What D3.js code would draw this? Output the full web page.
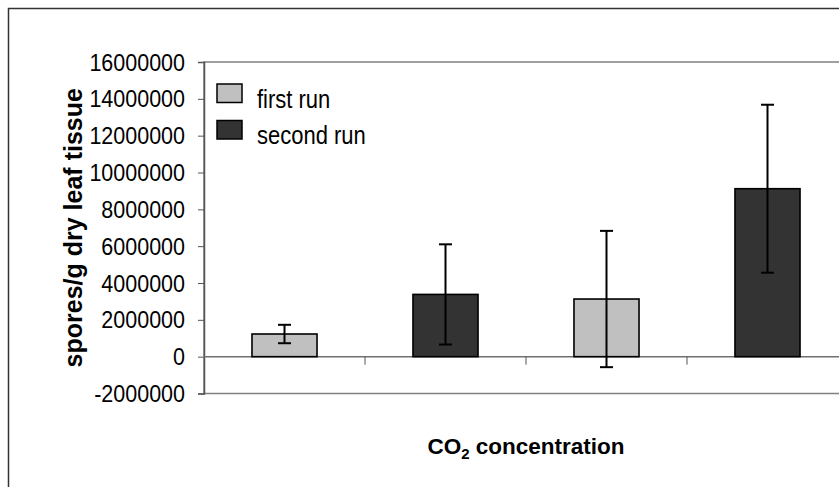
<!DOCTYPE html>
<html>
<head>
  <meta charset="utf-8">
  <title>Spores per gram</title>
  <style>
  body { margin: 0; background: #fff; }
  text { font-family: "Liberation Sans", Arial, sans-serif; fill: #000; }
  .tick-label { font-size: 21.5px; text-anchor: end; }
  .legend-label { font-size: 22px; }
  .axis-title { font-size: 22.5px; font-weight: bold; }
  .bar { stroke: #000; stroke-width: 1.6px; }
  .err { stroke: #000; stroke-width: 2px; fill: none; }
  </style>
</head>
<body>
  <div id="chart"></div>
  <script src="https://cdn.jsdelivr.net/npm/d3@7"></script>
  <script>
  // chart data
  var categories = ["level 1", "level 2", "level 3", "level 4"];
  var runs = ["first run", "second run", "first run", "second run"];
  var means = [1230000, 3380000, 3130000, 9120000];
  var errors = [500000, 2720000, 3700000, 4560000];
  var seriesNames = ["first run", "second run"];
  var seriesColors = ["#c0c0c0", "#333333"];
  var yTicks = [-2000000, 0, 2000000, 4000000, 6000000, 8000000, 10000000, 12000000, 14000000, 16000000];

  var width = 839, height = 487;
  var plotLeft = 204, plotRight = 848, plotTop = 62, plotBottom = 393.5;

  var svg = d3.select("#chart").append("svg")
    .attr("width", width)
    .attr("height", height);

  // outer chart frame (runs off the right/bottom of the window)
  svg.append("rect")
    .attr("x", 8.5).attr("y", 8.5)
    .attr("width", 900).attr("height", 600)
    .attr("fill", "none")
    .attr("stroke", "#333")
    .attr("stroke-width", 1.5);

  var color = d3.scaleOrdinal().domain(seriesNames).range(seriesColors);

  var x = d3.scaleBand()
    .domain(categories)
    .range([plotLeft, plotRight])
    .paddingInner(0.596)
    .paddingOuter(0.298);

  var y = d3.scaleLinear()
    .domain([-2000000, 16000000])
    .range([plotBottom, plotTop]);

  // plot area frame
  svg.append("rect")
    .attr("x", plotLeft).attr("y", plotTop)
    .attr("width", plotRight - plotLeft).attr("height", plotBottom - plotTop)
    .attr("fill", "none")
    .attr("stroke", "#808080")
    .attr("stroke-width", 1.5);

  // y axis
  var yAxis = svg.append("g")
    .attr("transform", "translate(" + plotLeft + ",0)")
    .call(d3.axisLeft(y).tickValues(yTicks).tickSize(6).tickFormat(function(d) { return String(d); }));
  yAxis.select(".domain").attr("stroke", "#555").attr("stroke-width", 1.5);
  yAxis.selectAll(".tick line").attr("stroke", "#555");
  // text in the picture is a bit taller than Arial, so stretch it a little
  yAxis.selectAll(".tick text")
    .attr("class", "tick-label")
    .attr("font-size", null)
    .attr("font-family", null)
    .attr("fill", "#000")
    .attr("x", null).attr("dy", null)
    .attr("transform", "translate(-19,8) scale(1,1.08)");

  // zero line with category separators
  var xAxis = svg.append("g")
    .attr("transform", "translate(0," + y(0) + ")");
  xAxis.append("line")
    .attr("x1", plotLeft).attr("x2", plotRight)
    .attr("stroke", "#707070").attr("stroke-width", 1.5);
  xAxis.selectAll(".sep")
    .data(categories.slice(1))
    .enter().append("line")
    .attr("class", "sep")
    .attr("x1", function(d) { return x(d) - x.step() * x.paddingInner() / 2; })
    .attr("x2", function(d) { return x(d) - x.step() * x.paddingInner() / 2; })
    .attr("y1", 0).attr("y2", 8)
    .attr("stroke", "#555").attr("stroke-width", 1);

  // bars
  svg.selectAll(".bar")
    .data(categories)
    .enter().append("rect")
    .attr("class", "bar")
    .attr("x", function(d) { return x(d); })
    .attr("y", function(d, i) { return y(means[i]); })
    .attr("width", x.bandwidth())
    .attr("height", function(d, i) { return y(0) - y(means[i]); })
    .attr("fill", function(d, i) { return color(runs[i]); });

  // error bars
  var cap = 6.5;
  var eb = svg.selectAll(".errbar")
    .data(categories)
    .enter().append("g")
    .attr("class", "errbar")
    .attr("transform", function(d) { return "translate(" + (x(d) + x.bandwidth() / 2) + ",0)"; });
  eb.append("line").attr("class", "err")
    .attr("y1", function(d, i) { return y(means[i] + errors[i]); })
    .attr("y2", function(d, i) { return y(means[i] - errors[i]); });
  eb.append("line").attr("class", "err")
    .attr("x1", -cap).attr("x2", cap)
    .attr("y1", function(d, i) { return y(means[i] + errors[i]); })
    .attr("y2", function(d, i) { return y(means[i] + errors[i]); });
  eb.append("line").attr("class", "err")
    .attr("x1", -cap).attr("x2", cap)
    .attr("y1", function(d, i) { return y(means[i] - errors[i]); })
    .attr("y2", function(d, i) { return y(means[i] - errors[i]); });

  // legend
  var legend = svg.selectAll(".legend")
    .data(seriesNames)
    .enter().append("g")
    .attr("class", "legend")
    .attr("transform", function(d, i) { return "translate(217," + (84 + i * 36.5) + ")"; });
  legend.append("rect")
    .attr("width", 25).attr("height", 18.5)
    .attr("fill", function(d) { return color(d); })
    .attr("stroke", "#000").attr("stroke-width", 1.5);
  legend.append("text")
    .attr("class", "legend-label")
    .attr("transform", "translate(40,23.5) scale(1,1.2)")
    .text(function(d) { return d; });

  // axis titles
  svg.append("text")
    .attr("class", "axis-title")
    .attr("font-size", "25px")
    .style("font-size", "25px")
    .attr("transform", "translate(82," + ((plotTop + plotBottom) / 2) + ") rotate(-90)")
    .attr("text-anchor", "middle")
    .text("spores/g dry leaf tissue");

  var xt = svg.append("text")
    .attr("class", "axis-title")
    .attr("x", (plotLeft + plotRight) / 2)
    .attr("y", 454)
    .attr("text-anchor", "middle");
  xt.append("tspan").text("CO");
  xt.append("tspan").attr("font-size", "15px").attr("dy", 5).text("2");
  xt.append("tspan").attr("dy", -5).text(" concentration");
  </script>
</body>
</html>
